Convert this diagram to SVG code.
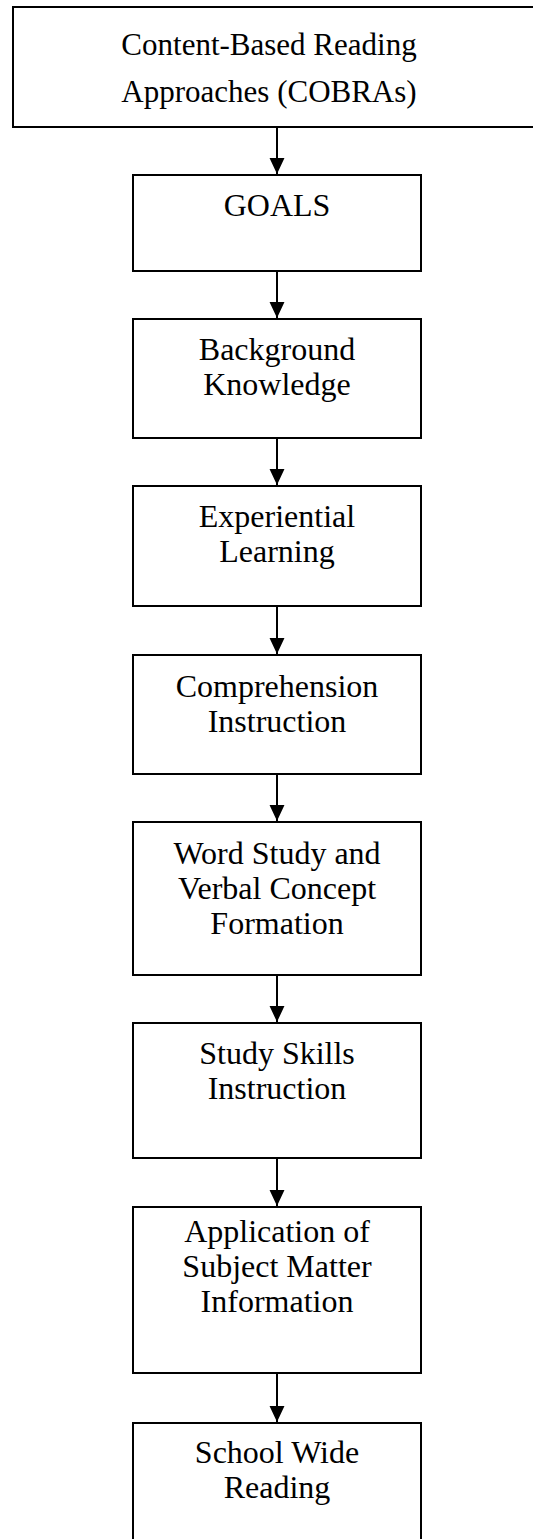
<svg xmlns="http://www.w3.org/2000/svg" width="533" height="1539" viewBox="0 0 533 1539">
<style>
.box{fill:#fff;stroke:#000;stroke-width:2}
.t{font-family:"Liberation Serif","Times New Roman",serif;font-size:32px;fill:#000;text-anchor:middle}
.top{font-size:31px}
.c{stroke:#000;stroke-width:2;fill:none}
</style>
<defs>
<marker id="ah" markerUnits="userSpaceOnUse" markerWidth="16" markerHeight="16" viewBox="0 0 15 14" refX="15" refY="7" orient="auto">
<path d="M0,0 L15,7 L0,14 Z" fill="#000"/>
</marker>
</defs>
<rect width="533" height="1539" fill="#fff"/>
<g id="n0"><rect class="box" x="13" y="7" width="530" height="120"/>
<text class="t top" x="269" y="55">Content-Based Reading</text>
<text class="t top" x="269" y="102">Approaches (COBRAs)</text></g>
<g id="n1"><rect class="box" x="133" y="175" width="288" height="96"/>
<text class="t" x="277" y="216">GOALS</text></g>
<g id="n2"><rect class="box" x="133" y="319" width="288" height="119"/>
<text class="t" x="277" y="360">Background</text>
<text class="t" x="277" y="395">Knowledge</text></g>
<g id="n3"><rect class="box" x="133" y="486" width="288" height="120"/>
<text class="t" x="277" y="527">Experiential</text>
<text class="t" x="277" y="562">Learning</text></g>
<g id="n4"><rect class="box" x="133" y="655" width="288" height="119"/>
<text class="t" x="277" y="697">Comprehension</text>
<text class="t" x="277" y="732">Instruction</text></g>
<g id="n5"><rect class="box" x="133" y="822" width="288" height="153"/>
<text class="t" x="277" y="864">Word Study and</text>
<text class="t" x="277" y="899">Verbal Concept</text>
<text class="t" x="277" y="934">Formation</text></g>
<g id="n6"><rect class="box" x="133" y="1023" width="288" height="135"/>
<text class="t" x="277" y="1064">Study Skills</text>
<text class="t" x="277" y="1099">Instruction</text></g>
<g id="n7"><rect class="box" x="133" y="1207" width="288" height="166"/>
<text class="t" x="277" y="1242">Application of</text>
<text class="t" x="277" y="1277">Subject Matter</text>
<text class="t" x="277" y="1312">Information</text></g>
<g id="n8"><rect class="box" x="133" y="1423" width="288" height="130"/>
<text class="t" x="277" y="1463">School Wide</text>
<text class="t" x="277" y="1498">Reading</text></g>
<g id="connectors">
<line class="c" x1="277" y1="127" x2="277" y2="174" marker-end="url(#ah)"/>
<line class="c" x1="277" y1="272" x2="277" y2="318" marker-end="url(#ah)"/>
<line class="c" x1="277" y1="439" x2="277" y2="485" marker-end="url(#ah)"/>
<line class="c" x1="277" y1="607" x2="277" y2="654" marker-end="url(#ah)"/>
<line class="c" x1="277" y1="775" x2="277" y2="821" marker-end="url(#ah)"/>
<line class="c" x1="277" y1="976" x2="277" y2="1022" marker-end="url(#ah)"/>
<line class="c" x1="277" y1="1159" x2="277" y2="1206" marker-end="url(#ah)"/>
<line class="c" x1="277" y1="1374" x2="277" y2="1422" marker-end="url(#ah)"/>
</g>
</svg>
